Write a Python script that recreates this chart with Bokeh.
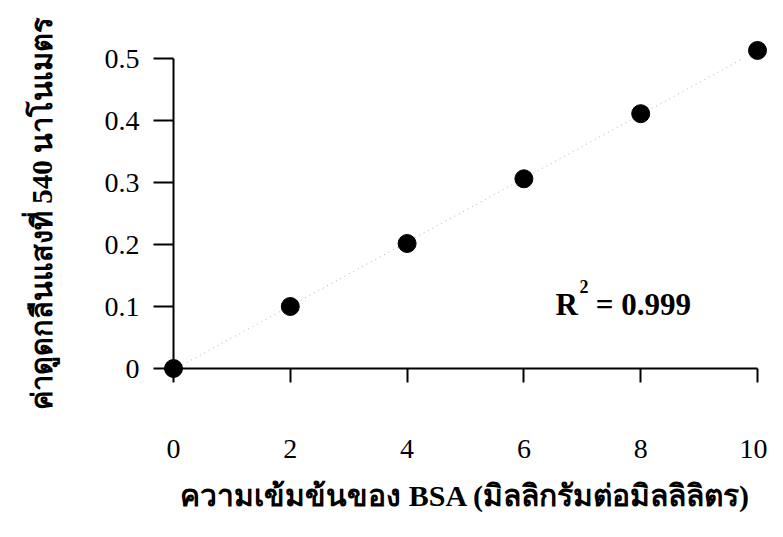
import numpy as np
from bokeh.plotting import figure
from bokeh.models import Range1d, FixedTicker, Label, ColumnDataSource
from bokeh.embed import file_html
from bokeh.resources import INLINE

# data
conc = [0, 2, 4, 6, 8, 10]
absorb = [0.0, 0.1, 0.2016, 0.306, 0.411, 0.513]
x_ticks = [0, 2, 4, 6, 8, 10]
y_ticks = [0, 0.1, 0.2, 0.3, 0.4, 0.5]
y_tick_labels = {0: "0", 0.1: "0.1", 0.2: "0.2", 0.3: "0.3", 0.4: "0.4", 0.5: "0.5"}
x_title = "ความเข้มข้นของ BSA (มิลลิกรัมต่อมิลลิลิตร)"
y_title = "ค่าดูดกลืนแสงที่ 540 นาโนเมตร"
r2_text = "0.999"

FONT = "Liberation Serif"

p = figure(width=767, height=529, output_backend="svg", toolbar_location=None,
           x_range=Range1d(0, 10), y_range=Range1d(0, 0.5),
           min_border_left=173, min_border_right=10, min_border_top=58,
           min_border_bottom=161)
p.outline_line_color = None
p.grid.visible = False
p.background_fill_color = "white"
p.border_fill_color = "white"

# axes
for ax in (p.xaxis[0], p.yaxis[0]):
    ax.axis_line_color = "black"
    ax.axis_line_width = 2
    ax.major_tick_line_color = "black"
    ax.major_tick_line_width = 2
    ax.minor_tick_line_color = None
    ax.major_tick_in = 0
    ax.major_label_text_font = FONT
    ax.major_label_text_font_size = "28px"
    ax.major_label_text_color = "black"
    ax.axis_label_text_font = FONT
    ax.axis_label_text_font_style = "bold"
    ax.axis_label_text_color = "black"

p.xaxis.ticker = FixedTicker(ticks=x_ticks)
p.xaxis.major_tick_out = 14
p.xaxis.major_label_standoff = 57
p.xaxis.axis_label = x_title
p.xaxis.axis_label_standoff = 18
p.xaxis.axis_label_text_font_size = "30px"

p.yaxis.ticker = FixedTicker(ticks=y_ticks)
p.yaxis.major_label_overrides = y_tick_labels
p.yaxis.major_tick_out = 20
p.yaxis.major_label_standoff = 14
p.yaxis.axis_label = y_title
p.yaxis.axis_label_standoff = 44
p.yaxis.axis_label_text_font_size = "29px"

# trend line from least squares fit
slope, icpt = np.polyfit(conc, absorb, 1)
fx = [min(conc), max(conc)]
fy = [icpt + slope * v for v in fx]
p.line(fx, fy, line_color="#b0b0b0", line_width=1, line_dash="1 4")

src = ColumnDataSource(dict(x=conc, y=absorb))
p.scatter("x", "y", source=src, size=18, marker="circle",
          fill_color="black", line_color="black", level="overlay")

# R^2 annotation
p.add_layout(Label(x=6.54, y=0.075, text="R", text_font=FONT, text_font_style="bold",
                   text_font_size="31px", text_color="black"))
p.add_layout(Label(x=6.95, y=0.122, text="2", text_font=FONT, text_font_style="bold",
                   text_font_size="18px", text_color="black"))
p.add_layout(Label(x=7.23, y=0.075, text="= " + r2_text, text_font=FONT, text_font_style="bold",
                   text_font_size="31px", text_color="black"))

open("out.html", "w").write(file_html(p, INLINE))
